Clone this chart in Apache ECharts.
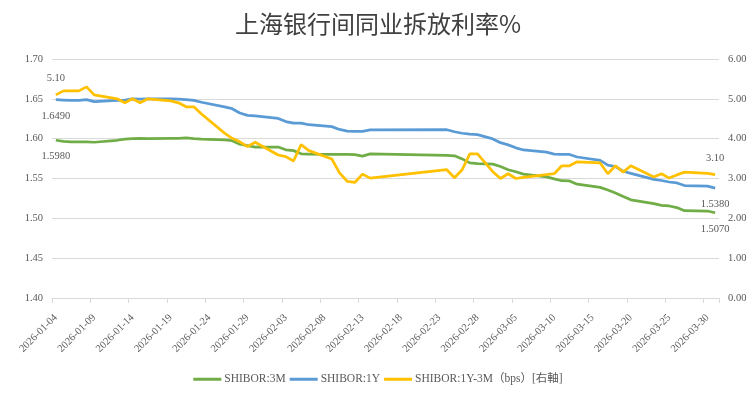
<!DOCTYPE html>
<html>
<head>
<meta charset="utf-8">
<script src="https://cdn.jsdelivr.net/npm/echarts@6/dist/echarts.min.js"></script>
<style>
html,body{margin:0;padding:0;background:#fff;}
#chart{width:756px;height:397px;}
</style>
</head>
<body>
<div id="chart"></div>
<script>
// Trading days (SHIBOR publication dates)
const dates = [
 '2026-01-04','2026-01-05','2026-01-06','2026-01-07','2026-01-08','2026-01-09',
 '2026-01-12','2026-01-13','2026-01-14','2026-01-15','2026-01-16',
 '2026-01-19','2026-01-20','2026-01-21','2026-01-22','2026-01-23',
 '2026-01-26','2026-01-27','2026-01-28','2026-01-29','2026-01-30',
 '2026-02-02','2026-02-03','2026-02-04','2026-02-05','2026-02-06',
 '2026-02-09','2026-02-10','2026-02-11','2026-02-12','2026-02-13','2026-02-14',
 '2026-02-24','2026-02-25','2026-02-26','2026-02-27','2026-02-28',
 '2026-03-02','2026-03-03','2026-03-04','2026-03-05','2026-03-06',
 '2026-03-09','2026-03-10','2026-03-11','2026-03-12','2026-03-13',
 '2026-03-16','2026-03-17','2026-03-18','2026-03-19','2026-03-20',
 '2026-03-23','2026-03-24','2026-03-25','2026-03-26','2026-03-27',
 '2026-03-30','2026-03-31'
];
const shibor3M = [
 1.5980,1.5965,1.5960,1.5960,1.5960,1.5955,
 1.5980,1.5995,1.6000,1.6005,1.6000,
 1.6005,1.6005,1.6010,1.6000,1.5995,
 1.5985,1.5975,1.5930,1.5912,1.5895,
 1.5895,1.5860,1.5850,1.5810,1.5805,
 1.5802,1.5802,1.5802,1.5800,1.5781,1.5809,
 1.5790,1.5785,1.5746,1.5696,1.5688,
 1.5680,1.5650,1.5610,1.5585,1.5555,
 1.5520,1.5495,1.5472,1.5470,1.5428,
 1.5388,1.5355,1.5318,1.5275,1.5232,
 1.5185,1.5163,1.5155,1.5135,1.5096,
 1.5092,1.5070
];
const shibor1Y = [
 1.6490,1.6485,1.6480,1.6480,1.6490,1.6465,
 1.6480,1.6485,1.6500,1.6495,1.6500,
 1.6500,1.6495,1.6490,1.6480,1.6457,
 1.6399,1.6376,1.6322,1.6292,1.6286,
 1.6254,1.6215,1.6194,1.6195,1.6175,
 1.6151,1.6116,1.6095,1.6090,1.6092,1.6110,
 1.6112,1.6087,1.6068,1.6058,1.6050,
 1.5997,1.5950,1.5922,1.5885,1.5858,
 1.5830,1.5807,1.5804,1.5802,1.5770,
 1.5727,1.5667,1.5650,1.5591,1.5564,
 1.5489,1.5475,1.5456,1.5444,1.5412,
 1.5405,1.5380
];
const spreadBps = [
 5.10,5.20,5.20,5.20,5.30,5.10,
 5.00,4.90,5.00,4.90,5.00,
 4.95,4.90,4.80,4.80,4.62,
 4.14,4.01,3.92,3.80,3.91,
 3.59,3.55,3.44,3.85,3.70,
 3.49,3.14,2.93,2.90,3.11,3.01,
 3.22,3.02,3.22,3.62,3.62,
 3.17,3.00,3.12,3.00,3.03,
 3.10,3.12,3.32,3.32,3.42,
 3.39,3.12,3.32,3.16,3.32,
 3.04,3.12,3.01,3.09,3.16,
 3.13,3.10
];
const leftTicks = {min: 1.40, max: 1.70, interval: 0.05};
const rightTicks = {min: 0, max: 6, interval: 1};
const axisStart = '2026-01-04', axisEnd = '2026-03-31';
const seriesNames = ['SHIBOR:3M', 'SHIBOR:1Y', 'SHIBOR:1Y-3M（bps）[右軸]'];
const titleText = '上海银行间同业拆放利率%';

// calendar-day categories for the date axis
const categories = [];
(function(){
  let t = Date.parse(axisStart + 'T00:00:00Z');
  const e = Date.parse(axisEnd + 'T00:00:00Z');
  while (t <= e) { categories.push(new Date(t).toISOString().slice(0,10)); t += 86400000; }
})();

const serif = "'Liberation Serif', 'Noto Sans CJK SC', serif";
const txt = '#595959';

function build(vals, digits, pos) {
  return vals.map((v, i) => {
    const item = {value: [dates[i], v]};
    if (i === 0 || i === vals.length - 1) {
      item.label = {show: true, position: pos, distance: 11,
        formatter: v.toFixed(digits),
        fontFamily: serif, fontSize: 10.5, color: txt};
    }
    return item;
  });
}

function lineSeries(name, axisIdx, color, vals, digits, pos) {
  return {
    name: name, type: 'line', yAxisIndex: axisIdx,
    symbol: 'circle', symbolSize: 0.01, showSymbol: true, showAllSymbol: true,
    connectNulls: true,
    lineStyle: {color: color, width: 2.75}, itemStyle: {color: color},
    label: {show: false},
    labelLayout: {hideOverlap: false},
    data: build(vals, digits, pos)
  };
}

const chart = echarts.init(document.getElementById('chart'), null, {renderer: 'canvas'});
chart.setOption({
  animation: false,
  backgroundColor: '#ffffff',
  title: {
    text: titleText, left: 'center', top: 7,
    textStyle: {fontFamily: "'Noto Sans CJK SC', sans-serif", fontSize: 24, fontWeight: 'normal', color: '#404040'}
  },
  legend: {
    bottom: 7, left: 'center', itemGap: 4, itemWidth: 28, itemHeight: 3, icon: 'rect',
    textStyle: {fontFamily: serif, fontSize: 11.5, color: txt, padding: [0,0,0,-2]},
    data: seriesNames
  },
  grid: {left: 52, right: 37, top: 59, bottom: 99, containLabel: false},
  xAxis: {
    type: 'category', data: categories, boundaryGap: true,
    axisLine: {show: true, lineStyle: {color: '#d9d9d9', width: 1}},
    axisTick: {show: true, interval: 4, length: 5, lineStyle: {color: '#d9d9d9'}},
    axisLabel: {interval: 4, rotate: 45, margin: 18, fontFamily: serif, fontSize: 10.5, color: txt},
    splitLine: {show: false}
  },
  yAxis: [
    {type: 'value', min: leftTicks.min, max: leftTicks.max, interval: leftTicks.interval,
     axisLine: {show: false}, axisTick: {show: false},
     axisLabel: {formatter: v => v.toFixed(2), margin: 9, fontFamily: serif, fontSize: 10.5, color: txt},
     splitLine: {show: true, lineStyle: {color: '#d9d9d9', width: 1}}},
    {type: 'value', min: rightTicks.min, max: rightTicks.max, interval: rightTicks.interval,
     axisLine: {show: false}, axisTick: {show: false},
     axisLabel: {formatter: v => v.toFixed(2), margin: 9, fontFamily: serif, fontSize: 10.5, color: txt},
     splitLine: {show: false}}
  ],
  series: [
    lineSeries(seriesNames[0], 0, '#70ad47', shibor3M, 4, 'bottom'),
    lineSeries(seriesNames[1], 0, '#5b9bd5', shibor1Y, 4, 'bottom'),
    lineSeries(seriesNames[2], 1, '#ffc000', spreadBps, 2, 'top')
  ]
});
</script>
</body>
</html>
